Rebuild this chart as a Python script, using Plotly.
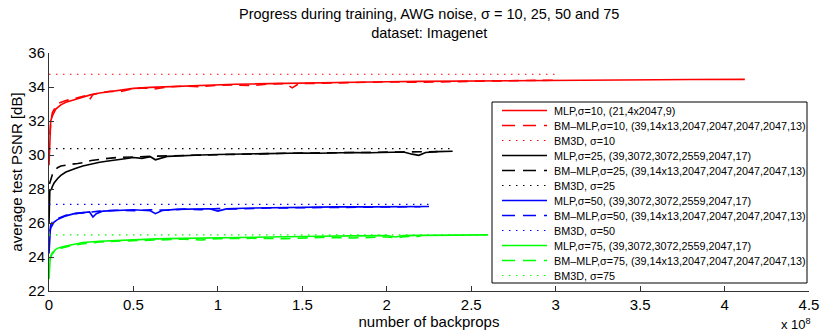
import plotly.graph_objects as go

# x values in units of 1e8 backprops, y values are average test PSNR [dB]

# sigma = 10
mlp10_x = [0, 0.003, 0.006, 0.01, 0.02, 0.04, 0.07, 0.1, 0.15, 0.2, 0.25, 0.3, 0.4, 0.5,
           0.6, 0.7, 0.8, 0.9, 1.0, 1.1, 1.2, 1.3, 1.4, 1.5, 1.6, 1.8, 2.0, 2.2, 2.4, 2.6,
           2.8, 3.0, 3.2, 3.4, 3.6, 3.8, 4.0, 4.12]
mlp10_y = [29.4, 30.8, 31.6, 32.0, 32.3, 32.7, 32.95, 33.1, 33.25, 33.4, 33.55, 33.65, 33.8, 33.92,
           33.98, 34.02, 34.07, 34.1, 34.14, 34.16, 34.18, 34.2, 34.21, 34.23, 34.25, 34.28, 34.31, 34.33, 34.35, 34.37,
           34.39, 34.4, 34.41, 34.42, 34.43, 34.44, 34.44, 34.45]
bm10_x = [0.005, 0.01, 0.02, 0.04, 0.06, 0.1, 0.14, 0.18, 0.22, 0.24, 0.26, 0.3, 0.36, 0.42, 0.5,
          0.56, 0.62, 0.7, 0.8, 0.9, 1.0, 1.1, 1.2, 1.3, 1.4, 1.44, 1.48, 1.6, 1.8, 2.0,
          2.2, 2.4, 2.6, 2.8, 3.0]
bm10_y = [31.2, 31.9, 32.5, 32.85, 33.05, 33.2, 33.3, 33.4, 33.5, 33.25, 33.55, 33.65, 33.75, 33.72, 33.9,
          33.95, 33.88, 34.0, 34.05, 34.02, 34.1, 34.12, 34.08, 34.18, 34.2, 33.95, 34.2, 34.22, 34.25, 34.3,
          34.28, 34.33, 34.35, 34.38, 34.4]
bm3d10_x = [0, 3.0]
bm3d10_y = [34.75, 34.75]

# sigma = 25
mlp25_x = [0, 0.005, 0.01, 0.015, 0.02, 0.03, 0.05, 0.07, 0.1, 0.13, 0.16, 0.2, 0.25, 0.3, 0.35,
           0.4, 0.45, 0.5, 0.55, 0.6, 0.63, 0.7, 0.8, 0.9, 1.0, 1.1, 1.2, 1.3, 1.4, 1.5,
           1.6, 1.7, 1.8, 1.9, 2.0, 2.1, 2.15, 2.19, 2.23, 2.3, 2.39]
mlp25_y = [26.0, 27.9, 27.95, 28.0, 28.15, 28.35, 28.6, 28.8, 29.0, 29.12, 29.22, 29.35, 29.48, 29.57, 29.65,
           29.7, 29.78, 29.85, 29.8, 29.9, 29.72, 29.92, 29.98, 30.0, 30.03, 30.05, 30.08, 30.06, 30.1, 30.12,
           30.1, 30.14, 30.15, 30.13, 30.17, 30.18, 30.05, 29.98, 30.15, 30.2, 30.22]
bm25_x = [0.003, 0.01, 0.02, 0.03, 0.05, 0.07, 0.1, 0.13, 0.17, 0.2, 0.25, 0.3, 0.35, 0.4,
          0.5, 0.6, 0.7, 0.8, 0.9, 1.0, 1.2, 1.4, 1.6, 1.8, 2.0, 2.2, 2.3]
bm25_y = [28.3, 28.6, 28.85, 29.05, 29.25, 29.35, 29.38, 29.45, 29.5, 29.55, 29.68, 29.72, 29.8, 29.85,
          29.9, 29.92, 29.95, 29.98, 30.0, 30.02, 30.06, 30.1, 30.12, 30.15, 30.17, 30.18, 30.2]
bm3d25_x = [0, 2.4]
bm3d25_y = [30.38, 30.38]

# sigma = 50
mlp50_x = [0, 0.004, 0.008, 0.012, 0.02, 0.03, 0.05, 0.08, 0.1, 0.15, 0.2, 0.24, 0.26, 0.28, 0.32,
           0.4, 0.5, 0.55, 0.6, 0.63, 0.67, 0.75, 0.85, 0.95, 1.0, 1.05, 1.15, 1.3, 1.5, 1.7,
           1.9, 2.1, 2.25]
mlp50_y = [24.2, 25.2, 25.6, 25.75, 25.9, 26.05, 26.2, 26.35, 26.42, 26.55, 26.62, 26.65, 26.35, 26.55, 26.7,
           26.74, 26.78, 26.75, 26.72, 26.55, 26.74, 26.8, 26.82, 26.84, 26.7, 26.83, 26.87, 26.9, 26.93, 26.95,
           26.95, 26.96, 26.97]
bm50_x = [0.005, 0.01, 0.02, 0.04, 0.06, 0.1, 0.15, 0.2, 0.25, 0.3, 0.4, 0.5, 0.6, 0.7,
          0.8, 0.9, 1.0, 1.1, 1.3, 1.5, 1.7, 1.9, 2.1, 2.2]
bm50_y = [25.5, 25.9, 26.05, 26.15, 26.3, 26.45, 26.55, 26.6, 26.65, 26.7, 26.75, 26.72, 26.78, 26.75,
          26.82, 26.78, 26.85, 26.82, 26.88, 26.9, 26.92, 26.93, 26.95, 26.96]
bm3d50_x = [0, 2.27]
bm3d50_y = [27.1, 27.1]

# sigma = 75
mlp75_x = [0, 0.003, 0.007, 0.01, 0.02, 0.04, 0.06, 0.1, 0.15, 0.2, 0.3, 0.4, 0.5, 0.6,
           0.7, 0.8, 1.0, 1.2, 1.4, 1.6, 1.8, 2.0, 2.05, 2.1, 2.2, 2.4, 2.6]
mlp75_y = [22.7, 23.6, 23.95, 24.05, 24.25, 24.45, 24.55, 24.65, 24.75, 24.85, 24.93, 24.98, 25.02, 25.05,
           25.08, 25.1, 25.14, 25.17, 25.2, 25.22, 25.24, 25.26, 25.18, 25.26, 25.27, 25.29, 25.3]
bm75_x = [0.005, 0.01, 0.02, 0.04, 0.07, 0.1, 0.15, 0.2, 0.3, 0.4, 0.5, 0.6, 0.7, 0.8,
          0.9, 1.0, 1.2, 1.4, 1.6, 1.8, 2.0, 2.06, 2.1, 2.2]
bm75_y = [23.8, 24.0, 24.2, 24.4, 24.52, 24.6, 24.7, 24.78, 24.88, 24.93, 24.97, 25.0, 25.02, 25.05,
          25.0, 25.08, 25.1, 25.08, 25.15, 25.12, 25.18, 25.12, 25.2, 25.22]
bm3d75_x = [0, 2.6]
bm3d75_y = [25.3, 25.3]

FONT = "Liberation Sans, Arial, Helvetica, sans-serif"
SOLID = "solid"
DASHED = "10px,7px"
DOTTED = "1.5px,5.5px"

series = [
    ("MLP,σ=10, (21,4x2047,9)", "#ff0000", SOLID, mlp10_x, mlp10_y),
    ("BM–MLP,σ=10, (39,14x13,2047,2047,2047,2047,13)", "#ff0000", DASHED, bm10_x, bm10_y),
    ("BM3D, σ=10", "#ff0000", DOTTED, bm3d10_x, bm3d10_y),
    ("MLP,σ=25, (39,3072,3072,2559,2047,17)", "#000000", SOLID, mlp25_x, mlp25_y),
    ("BM–MLP,σ=25, (39,14x13,2047,2047,2047,2047,13)", "#000000", DASHED, bm25_x, bm25_y),
    ("BM3D, σ=25", "#000000", DOTTED, bm3d25_x, bm3d25_y),
    ("MLP,σ=50, (39,3072,3072,2559,2047,17)", "#0000ff", SOLID, mlp50_x, mlp50_y),
    ("BM–MLP,σ=50, (39,14x13,2047,2047,2047,2047,13)", "#0000ff", DASHED, bm50_x, bm50_y),
    ("BM3D, σ=50", "#0000ff", DOTTED, bm3d50_x, bm3d50_y),
    ("MLP,σ=75, (39,3072,3072,2559,2047,17)", "#00ff00", SOLID, mlp75_x, mlp75_y),
    ("BM–MLP,σ=75, (39,14x13,2047,2047,2047,2047,13)", "#00ff00", DASHED, bm75_x, bm75_y),
    ("BM3D, σ=75", "#00ff00", DOTTED, bm3d75_x, bm3d75_y),
]

# the page has the browser's default 8px body margin, so the figure starts at (8, 8)
PAGE_W, PAGE_H, OFF = 830, 335, 8
W, H = PAGE_W - OFF, PAGE_H - OFF
# plot area in page pixels
PL, PR, PT, PB = 49, 809, 53, 291


def px(x):
    return (x - PL) / (PR - PL)


def py(y):
    return (PB - y) / (PB - PT)


fig = go.Figure()
shapes = []
annotations = []

# legend box (drawn by hand so the rows are as tight as matlab's)
leg_left, leg_right, leg_top, leg_bottom = 492, 807, 102, 283
row0, row_h = 110.5, 15.0
shapes.append(dict(type="rect", xref="paper", yref="paper",
                   x0=px(leg_left), x1=px(leg_right), y0=py(leg_bottom), y1=py(leg_top),
                   line=dict(color="black", width=1), fillcolor="white", layer="above"))

for i, (name, color, dash, xs, ys) in enumerate(series):
    width = 1.2 if dash == DOTTED else 1.6
    fig.add_trace(go.Scatter(x=xs, y=ys, mode="lines", name=name, showlegend=False,
                             line=dict(color=color, dash=dash, width=width)))
    ry = row0 + i * row_h
    shapes.append(dict(type="line", xref="paper", yref="paper", layer="above",
                       x0=px(502), x1=px(547), y0=py(ry), y1=py(ry),
                       line=dict(color=color, dash="13px,8px" if dash == DASHED else dash, width=width)))
    annotations.append(dict(xref="paper", yref="paper", x=px(552), y=py(ry), text=name,
                            showarrow=False, xanchor="left", yanchor="middle",
                            font=dict(size=10.8, color="black", family=FONT)))

# title as an annotation so it sits exactly where matlab put it
annotations.append(dict(xref="paper", yref="paper", x=0.5, y=py(23), xanchor="center", yanchor="middle",
                        text="Progress during training, AWG noise, σ = 10, 25, 50 and 75<br>dataset: Imagenet",
                        showarrow=False, font=dict(size=14.5, color="black", family=FONT)))

annotations.append(dict(xref="paper", yref="paper", x=px(813), y=py(324), text="x 10<sup>8</sup>",
                        showarrow=False, xanchor="right", yanchor="middle",
                        font=dict(size=13, color="black", family=FONT)))

fig.update_layout(
    width=W, height=H,
    margin=dict(l=PL - OFF, r=PAGE_W - PR, t=PT - OFF, b=PAGE_H - PB, autoexpand=False),
    paper_bgcolor="white", plot_bgcolor="white",
    font=dict(family=FONT, size=15, color="black"),
    showlegend=False,
    shapes=shapes,
    annotations=annotations,
)
fig.update_xaxes(range=[0, 4.5], dtick=0.5, tick0=0, ticks="inside", ticklen=5, tickcolor="#333",
                 showline=True, linecolor="#333", linewidth=1, showgrid=False, zeroline=False,
                 automargin=False,
                 title=dict(text="number of backprops", standoff=2, font=dict(size=15)),
                 tickfont=dict(size=15))
fig.update_yaxes(range=[22, 36], dtick=2, tick0=22, ticks="inside", ticklen=5, tickcolor="#333",
                 showline=True, linecolor="#333", linewidth=1, showgrid=False, zeroline=False,
                 automargin=False,
                 title=dict(text="average test PSNR [dB]", standoff=2, font=dict(size=15)),
                 tickfont=dict(size=15))

fig.write_html("out.html")
